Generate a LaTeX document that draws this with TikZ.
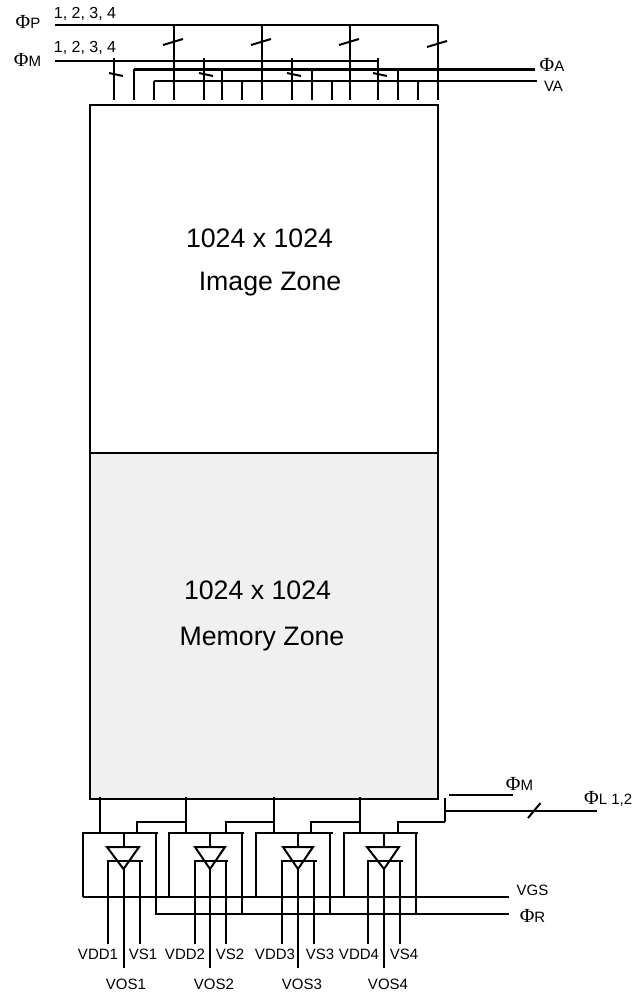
\documentclass[tikz,border=0pt]{standalone}
\usepackage{fontspec}
\setmainfont{Liberation Sans}
\newfontfamily\phifont{Liberation Serif}
\newcommand{\PhiSym}{{\phifont\fontsize{20}{20}\selectfont Φ}}
\tikzset{
  wire/.style={line width=2pt},
  tickmark/.style={line width=2pt},
  zone/.style={draw, line width=2pt, outer sep=0pt, anchor=north west, minimum width=348pt},
  zonetext/.style={font=\fontsize{26.7}{30}\selectfont},
  sig/.style={font=\fontsize{15}{18}\selectfont},
  num/.style={font=\fontsize{16}{18}\selectfont},
  driver/.style={line width=2pt, line join=miter}
}

\begin{document}
\begin{tikzpicture}
    [x=1pt, y=-1pt, every node/.style={inner sep=0pt}]
  \useasboundingbox (0,0) rectangle (641,998);

  \node (image) [zone, minimum height=348pt] at (90,105) {};
  \node (memory) [zone, minimum height=346pt, fill=black!6] at (90,453) {};
  \node (imagesize) [zonetext] at (259.5,238) {1024 x 1024};
  \node (imagename) [zonetext] at (270,284.5) {Image Zone};
  \node (memsize) [zonetext] at (257.5,590) {1024 x 1024};
  \node (memname) [zonetext] at (262,639.5) {Memory Zone};

  % top buses
  \node (phiP) [sig] at (28,22) {\PhiSym P};
  \node (phiM) [sig] at (27.5,60) {\PhiSym M};
  \node (phiA) [sig] at (552,65) {\PhiSym A};
  \node (vA) [sig] at (553.5,86) {VA};
  \node (numP) [num] at (85,14) {1, 2, 3, 4};
  \node (numM) [num] at (85,48) {1, 2, 3, 4};

  \coordinate (busP) at (55,25);
  \coordinate (busM) at (55,61);
  \coordinate (busA) at (134,69.5);
  \coordinate (busV) at (154,81);
  \coordinate (endP) at (438,25);
  \coordinate (endM) at (378,61);
  \coordinate (endA) at (535,69.5);
  \coordinate (endV) at (537,81);
  \draw[wire] (busP) -- (endP);
  \draw[wire] (busM) -- (endM);
  \draw[wire] (busA) -- (endA);
  \draw[wire] (busV) -- (endV);

  \foreach \x/\y in {174/42, 262/42, 350/42, 438/44} {
    \coordinate (pt\x) at (\x,25);
    \coordinate (pb\x) at (\x,100);
    \draw[wire] (pt\x) -- (pb\x);
    \draw[tickmark] (\x-11,\y+3) -- (\x+9,\y-3);
  }
  \foreach \x in {114,204,292,378} {
    \coordinate (mt\x) at (\x,58.5);
    \coordinate (mb\x) at (\x,100);
    \draw[wire] (mt\x) -- (mb\x);
    \draw[tickmark] (\x-5,73) -- (\x+9,76);
  }
  \foreach \x in {134,222,312,398} {
    \coordinate (at\x) at (\x,69.5);
    \coordinate (ab\x) at (\x,100);
    \draw[wire] (at\x) -- (ab\x);
  }
  \foreach \x in {154,242,332,418} {
    \coordinate (vt\x) at (\x,81);
    \coordinate (vb\x) at (\x,100);
    \draw[wire] (vt\x) -- (vb\x);
  }

  % output stages
  \foreach \n/\lx/\tr/\stub/\bx/\nx/\rx/\cx/\wl/\wr/\br/\vd/\vs/\ld/\ls/\lo in {
    1/83/158/99.5/137/186/156/123.5/107/139/143/108/140/98/143/126,
    2/169/244/186/226/274/242/210/195/225/228/195/226/185/230/214,
    3/256/333/274/311/360/330/298/283/313/317/282/314/275/320/302,
    4/344/418/360/398/445/416/384/367/399/403/368/400/359/404/388} {
    \coordinate (tl\n) at (\lx,833);
    \coordinate (tr\n) at (\tr,833);
    \coordinate (bl\n) at (\lx,897);
    \coordinate (stem\n) at (\cx,833);
    \draw[wire] (\stub,797) -- (\stub,833);
    \draw[wire] (bl\n) -- (tl\n) -- (tr\n);
    \draw[wire] (\bx,833) |- (\nx,822);
    \draw[wire] (\rx,833) -- (\rx,915);
    \draw[driver] (\wl,847) -- (\wr,847) -- (\cx,869) -- cycle;
    \draw[wire] (stem\n) -- (\cx,847);
    \draw[wire] (\cx,869) -- (\cx,968);
    \draw[wire] (\vd,944) |- (\br,861);
    \draw[wire] (\vs,861) -- (\vs,944);
    \node (vdd\n) [sig] at (\ld,954) {VDD\n};
    \node (vs\n) [sig] at (\ls,954) {VS\n};
    \node (vos\n) [sig] at (\lo,984) {VOS\n};
  }

  % right side signals
  \node (phiMb) [sig] at (519.5,784) {\PhiSym M};
  \node (phiL) [sig, anchor=west] at (584,799) {\PhiSym L 1,2};
  \node (vgs) [sig] at (532.5,890) {VGS};
  \node (phiR) [sig] at (532.5,916) {\PhiSym R};

  \coordinate (startMb) at (449,795);
  \coordinate (endMb) at (513,795);
  \coordinate (startL) at (445,811);
  \coordinate (endL) at (597,811);
  \coordinate (topL) at (445,798);
  \coordinate (cornerL) at (445,822);
  \coordinate (endGS) at (509,897);
  \coordinate (endR) at (509,914);
  \draw[wire] (startMb) -- (endMb);
  \draw[wire] (startL) -- (endL);
  \draw[wire] (topL) -- (cornerL);
  \draw[tickmark] (528,818) -- (540.5,803);
  \draw[wire] (bl1) -- (endGS);
  \draw[wire] (156,914) -- (endR);
\end{tikzpicture}
\end{document}
